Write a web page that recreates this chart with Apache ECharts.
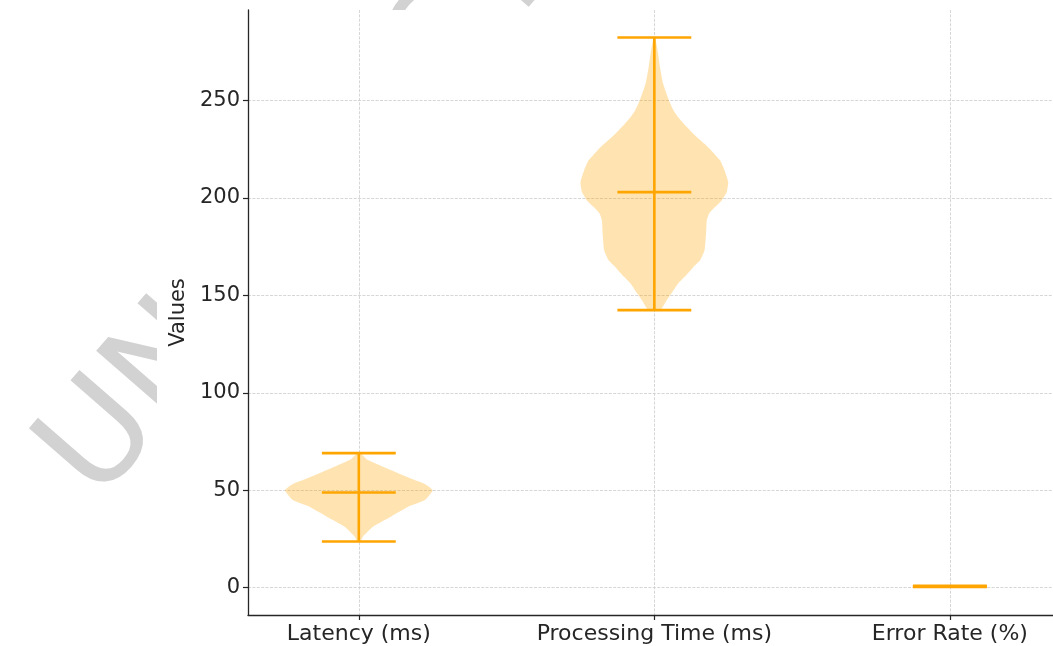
<!DOCTYPE html>
<html><head><meta charset="utf-8">
<script src="https://cdn.jsdelivr.net/npm/echarts@6/dist/echarts.min.js"></script>
<style>html,body{margin:0;padding:0;background:#fff}#c{width:1053px;height:646px}</style>
</head><body><div id="c"></div>
<script>
const categories = ['Latency (ms)', 'Processing Time (ms)', 'Error Rate (%)'];
const positions = [1, 2, 3];
const yTicks = [0, 50, 100, 150, 200, 250];
const mins = [23.6, 142.4, 0.3];
const maxs = [69.0, 282.4, 0.9];
const centers = [48.8, 203.0, 0.6];
// violin outlines: value levels and relative half-widths (1 = widest)
const latencyLevels = [23.6, 26.3, 31.4, 36.5, 41.7, 45.1, 49.9, 52.8, 55.3, 59.6, 65.6, 69.0];
const latencyDensity = [0.02, 0.06, 0.2, 0.44, 0.68, 0.9, 1.0, 0.91, 0.75, 0.48, 0.12, 0.02];
const processingLevels = [142.4, 147.6, 150.9, 156.0, 159.5, 164.6, 168.0, 173.1, 181.7, 188.5, 191.9, 195.3, 198.6, 203.0, 208.1, 214.2, 219.3, 224.4, 227.8, 232.9, 236.4, 241.6, 244.9, 249.9, 258.5, 267.1, 275.6, 282.4];
const processingDensity = [0.08, 0.17, 0.23, 0.32, 0.41, 0.53, 0.62, 0.68, 0.70, 0.71, 0.74, 0.82, 0.91, 0.98, 1.0, 0.95, 0.89, 0.77, 0.68, 0.53, 0.44, 0.32, 0.26, 0.20, 0.12, 0.077, 0.045, 0.01];
const errorLevels = [];
const errorDensity = [];
const watermarkText = 'UNREGISTERED';

const profiles = [
  [latencyLevels, latencyDensity],
  [processingLevels, processingDensity],
  [errorLevels, errorDensity]
];
const HALF = 0.25, CAP = 0.125;
const ORANGE = '#FFA500';
const TXT = '#262626';
const ANG = 49 * Math.PI / 180;

const chart = echarts.init(document.getElementById('c'), null, {renderer: 'canvas'});
chart.setOption({
  animation: false,
  backgroundColor: '#fff',
  graphic: [{
    type: 'text', z: -100,
    x: 122, y: 525, rotation: ANG,
    style: {
      text: watermarkText, x: 0, y: 0,
      font: '138px "DejaVu Sans"',
      textVerticalAlign: 'bottom',
      fill: '#d2d2d2'
    }
  }, {
    type: 'rect', z: -50,
    shape: {x: 157, y: 10, width: 1000, height: 700},
    style: {fill: '#fff'}
  }],
  grid: {left: 248, right: 0, top: 10, bottom: 31},
  xAxis: {
    type: 'value', min: 0.625, max: 3.349,
    axisLine: {show: true, onZero: false, lineStyle: {color: TXT, width: 1.3}},
    axisTick: {show: true, length: 5, customValues: positions, lineStyle: {color: TXT, width: 1.2}},
    axisLabel: {customValues: positions, margin: 8, color: TXT, fontSize: 22, fontFamily: 'DejaVu Sans',
      formatter: v => categories[positions.indexOf(Math.round(v))] || ''},
    splitLine: {show: true, lineStyle: {color: '#cccccc', type: [3, 1.4], width: 0.8}}
  },
  yAxis: {
    type: 'value', min: -14.1, max: 296.5,
    name: 'Values', nameLocation: 'middle', nameGap: 58,
    nameTextStyle: {color: TXT, fontSize: 21, fontFamily: 'DejaVu Sans'},
    axisLine: {show: true, onZero: false, lineStyle: {color: TXT, width: 1.3}},
    axisTick: {show: true, length: 5, customValues: yTicks, lineStyle: {color: TXT, width: 1.2}},
    axisLabel: {customValues: yTicks, margin: 8, color: TXT, fontSize: 21, fontFamily: 'DejaVu Sans'},
    splitLine: {show: true, lineStyle: {color: '#cccccc', type: [3, 1.4], width: 0.8}}
  },
  series: [{
    type: 'custom', name: 'bodies', z: 3, clip: false,
    data: positions.map((p, i) => [p, centers[i], i]),
    encode: {x: 0, y: 1},
    renderItem: (params, api) => {
      const i = api.value(2);
      const pos = positions[i];
      const [lv, dn] = profiles[i];
      if (!lv.length) return {type: 'group', children: []};
      const pts = [];
      for (let k = 0; k < lv.length; k++) pts.push(api.coord([pos + dn[k] * HALF, lv[k]]));
      for (let k = lv.length - 1; k >= 0; k--) pts.push(api.coord([pos - dn[k] * HALF, lv[k]]));
      return {type: 'polygon', shape: {points: pts, smooth: 0.15}, style: {fill: 'rgba(255,165,0,0.3)', stroke: 'none'}};
    }
  }, {
    type: 'custom', name: 'bars', z: 4, clip: false,
    data: positions.map((p, i) => [p, centers[i], i]),
    encode: {x: 0, y: 1},
    renderItem: (params, api) => {
      const i = api.value(2);
      const pos = positions[i];
      const st = {stroke: ORANGE, lineWidth: 2.6};
      const seg = (x1, y1, x2, y2) => {
        const a = api.coord([x1, y1]), b = api.coord([x2, y2]);
        return {type: 'line', shape: {x1: a[0], y1: a[1], x2: b[0], y2: b[1]}, style: st};
      };
      return {type: 'group', children: [
        seg(pos, mins[i], pos, maxs[i]),
        seg(pos - CAP, mins[i], pos + CAP, mins[i]),
        seg(pos - CAP, maxs[i], pos + CAP, maxs[i]),
        seg(pos - CAP, centers[i], pos + CAP, centers[i])
      ]};
    }
  }]
});
</script></body></html>
